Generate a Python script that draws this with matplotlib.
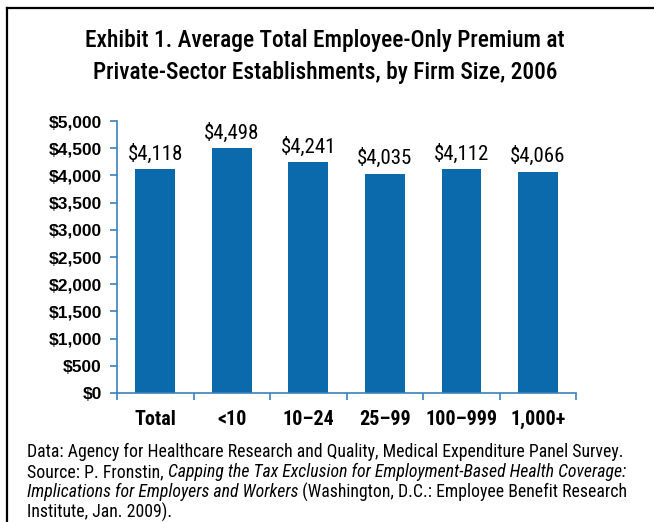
import matplotlib
matplotlib.use('Agg')
import matplotlib.pyplot as plt
from matplotlib.lines import Line2D

# chart data
categories = ['Total', '<10', '10\u201324', '25\u201399', '100\u2013999', '1,000+']
premiums = [4118, 4498, 4241, 4035, 4112, 4066]
yticks = list(range(0, 5001, 500))

title_lines = ['Exhibit 1. Average Total Employee-Only Premium at',
               'Private-Sector Establishments, by Firm Size, 2006']
note_lines = [
    [('Data: Agency for Healthcare Research and Quality, Medical Expenditure Panel Survey.', 'normal')],
    [('Source: P. Fronstin, ', 'normal'),
     ('Capping the Tax Exclusion for Employment-Based Health Coverage:', 'italic')],
    [('Implications for Employers and Workers', 'italic'),
     (' (Washington, D.C.: Employee Benefit Research', 'normal')],
    [('Institute, Jan. 2009).', 'normal')],
]

narrow = ['Roboto Condensed', 'DejaVu Sans']
bar_color = '#0a6aab'
axis_color = '#3a82bd'
W, H = 654, 522

fig = plt.figure(figsize=(6.54, 5.22), dpi=100)
renderer = fig.canvas.get_renderer()
ax = fig.add_axes([0.179, 0.247, 0.702, 0.521])

x = range(len(categories))
ax.bar(x, premiums, width=0.52, color=bar_color)
ax.set_xlim(-0.5, len(categories) - 0.5)
ax.set_ylim(0, 5000)

for xi, v in zip(x, premiums):
    ax.annotate('${:,}'.format(v), (xi, v), xytext=(0, 4), textcoords='offset points',
                ha='center', va='bottom', fontsize=15, family=narrow)

ax.set_yticks(yticks)
ax.set_yticklabels(['${:,}'.format(t) for t in yticks], fontsize=12.5,
                   fontweight='bold', family=['Liberation Sans', 'DejaVu Sans'])
ax.set_xticks([i - 0.5 for i in range(len(categories) + 1)])
ax.set_xticklabels([])
ax.set_xticks(list(x), minor=True)
ax.set_xticklabels(categories, minor=True, fontsize=14.5, fontweight='bold', family=narrow)
ax.tick_params(axis='x', which='minor', length=0, pad=12)
ax.tick_params(axis='x', which='major', length=5, color=axis_color, width=1.2)
ax.tick_params(axis='y', length=5, color=axis_color, width=1.2, pad=6)

for s in ['top', 'right']:
    ax.spines[s].set_visible(False)
for s in ['left', 'bottom']:
    ax.spines[s].set_color(axis_color)
    ax.spines[s].set_linewidth(1.2)


def fit(t, target):
    bb = t.get_window_extent(renderer=renderer)
    t.set_fontsize(t.get_fontsize() * target / bb.width)


# title, fitted to the reference width
t1 = fig.text(325 / W, 1 - 40 / H, title_lines[0], ha='center', va='center',
              fontsize=20, fontweight='medium', family=narrow)
fit(t1, 480)
t2 = fig.text(325 / W, 1 - 72 / H, title_lines[1], ha='center', va='center',
              fontsize=t1.get_fontsize(), fontweight='medium', family=narrow)

# frame lines on left and top
fig.add_artist(Line2D([0.0107, 0.0107], [0.0, 0.985], color='black', lw=1.6, transform=fig.transFigure))
fig.add_artist(Line2D([0.0107, 1.0], [0.985, 0.985], color='black', lw=1.6, transform=fig.transFigure))

# footnote with mixed italic runs
probe = fig.text(0, 0, note_lines[0][0][0], fontsize=11, family=narrow)
fit(probe, 593)
note_size = probe.get_fontsize()
probe.remove()

y_px = 452
for line in note_lines:
    x_px = 27
    for txt, style in line:
        t = fig.text(x_px / W, 1 - y_px / H, txt, fontsize=note_size, style=style,
                     family=narrow, ha='left', va='center')
        bb = t.get_window_extent(renderer=renderer)
        x_px += bb.width
    y_px += 20

fig.savefig('out.png', dpi=100)
